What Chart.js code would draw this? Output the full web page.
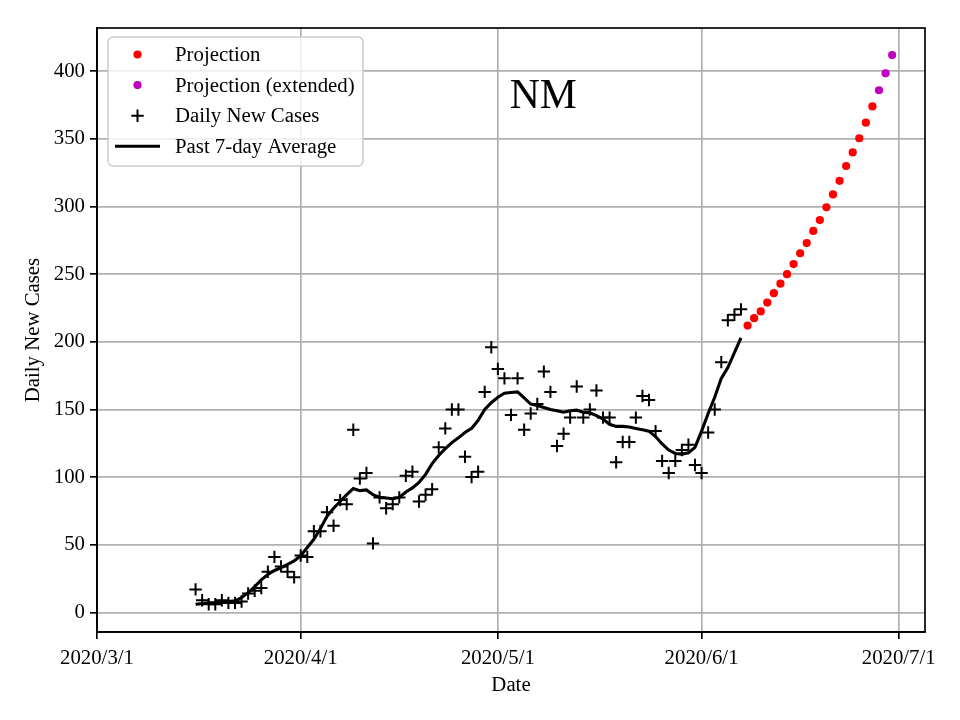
<!DOCTYPE html>
<html><head><meta charset="utf-8">
<script src="https://cdn.jsdelivr.net/npm/chart.js@4.4.1/dist/chart.umd.min.js"></script>
<style>html,body{margin:0;padding:0;background:#fff}canvas{display:block}</style>
</head><body>
<canvas id="c" width="960" height="720"></canvas>
<script>
// ---- data ----
const xTickDays = [0, 31, 61, 92, 122];            // days since 2020/3/1
const xTickLabels = ['2020/3/1', '2020/4/1', '2020/5/1', '2020/6/1', '2020/7/1'];
const yTicks = [0, 50, 100, 150, 200, 250, 300, 350, 400];
const stateName = 'NM';

const casesStartDay = 15;  // 2020/3/16
const dailyNewCases = [
  17, 9, 6, 6, 9, 7, 7, 8, 14, 16, 18, 30, 41, 34, 30, 26,
  42, 41, 60, 60, 74, 64, 83, 80, 135, 99, 103, 51, 85, 77, 80, 85, 101, 104,
  82, 87, 91, 122, 136, 150, 150, 115, 100, 104, 163, 196,
  180, 173, 146, 173, 135, 147, 154, 178, 163, 123, 132, 144, 167, 144, 150, 164,
  144, 144, 111, 126, 126, 144, 160, 157, 134, 112, 103, 112, 120, 124, 109,
  103, 133, 150, 185, 216, 220, 224
];
const avg7 = [
  6, 6.5, 7, 7, 7.5, 8, 8.5,
  11, 14.5, 19, 24, 28, 31, 33, 35.5, 38,
  42, 48, 54, 62, 71, 77, 82, 87, 91.5,
  90, 90.5, 87, 85, 84.5, 84, 85, 89, 92,
  96, 102, 110, 116, 121, 125.5, 129, 133, 136,
  142, 150, 155, 159, 162, 162.5, 163, 158.5, 154,
  153, 151.5, 150, 149, 148, 149, 149.5, 148, 147.5,
  145.5, 143, 139, 137.5, 137.5, 137, 136, 135, 134,
  130, 124.5, 120, 117.5, 117, 118, 122, 134, 147,
  159, 173, 181, 192, 203
];
const projStartDay = 99;   // 2020/6/8
const projection = [212, 217.5, 222.5, 229, 236, 243, 250, 257.5, 265.5, 273,
  282, 290, 299.5, 309, 319, 330, 340, 350.5, 362, 374];
const projExtStartDay = 119;
const projectionExt = [386, 398.5, 412];

const toXY = (arr, start) => arr.map((v, i) => ({x: start + i, y: v}));

// ---- style ----
const FONT = '"Liberation Serif", "Times New Roman", serif';
const FS = 20.8;
const LW = 1.67;

const framePlugin = {
  id: 'frame',
  afterDatasetsDraw(chart) {
    const {ctx, chartArea: a} = chart;
    ctx.save();
    ctx.strokeStyle = '#000';
    ctx.lineWidth = LW;
    ctx.strokeRect(a.left, a.top, a.right - a.left, a.bottom - a.top);
    ctx.fillStyle = '#000';
    ctx.font = '41.7px ' + FONT;
    ctx.textAlign = 'center';
    ctx.textBaseline = 'alphabetic';
    ctx.fillText(stateName, a.left + 0.539 * (a.right - a.left), a.top + 0.1325 * (a.bottom - a.top));
    ctx.restore();
  }
};

const legendPlugin = {
  id: 'innerLegend',
  afterDraw(chart) {
    const {ctx, chartArea: a} = chart;
    const order = [2, 3, 1, 0];
    const x0 = a.left + 11, y0 = a.top + 9, w = 255, h = 129, r = 5;
    ctx.save();
    ctx.beginPath();
    ctx.moveTo(x0 + r, y0);
    ctx.arcTo(x0 + w, y0, x0 + w, y0 + h, r);
    ctx.arcTo(x0 + w, y0 + h, x0, y0 + h, r);
    ctx.arcTo(x0, y0 + h, x0, y0, r);
    ctx.arcTo(x0, y0, x0 + w, y0, r);
    ctx.closePath();
    ctx.fillStyle = 'rgba(255,255,255,0.8)';
    ctx.fill();
    ctx.strokeStyle = '#cccccc';
    ctx.lineWidth = 1.5;
    ctx.stroke();
    ctx.font = FS + 'px ' + FONT;
    ctx.textAlign = 'left';
    ctx.textBaseline = 'middle';
    order.forEach((di, k) => {
      const ds = chart.data.datasets[di];
      const cy = y0 + 17.5 + k * 30.6;
      const mx = x0 + 29.5;
      ctx.fillStyle = ds.backgroundColor;
      ctx.strokeStyle = ds.borderColor;
      if (ds.showLine === false) {
        if (ds.pointStyle === 'circle') {
          ctx.beginPath(); ctx.arc(mx, cy, ds.pointRadius, 0, Math.PI * 2); ctx.fill();
        } else {
          ctx.lineWidth = ds.borderWidth;
          Chart.helpers.drawPoint(ctx, {
            pointStyle: ds.pointStyle, radius: ds.pointRadius, borderWidth: ds.borderWidth
          }, mx, cy);
        }
      } else {
        ctx.beginPath();
        ctx.lineWidth = ds.borderWidth;
        ctx.moveTo(mx - 22.5, cy); ctx.lineTo(mx + 22.5, cy); ctx.stroke();
      }
      ctx.fillStyle = '#000';
      ctx.fillText(ds.label, x0 + 67, cy + 1);
    });
    ctx.restore();
  }
};

new Chart(document.getElementById('c'), {
  type: 'scatter',
  data: {
    datasets: [
      { label: 'Past 7-day Average', data: toXY(avg7, casesStartDay), showLine: true,
        borderColor: '#000', borderWidth: 3.1, pointRadius: 0, fill: false, tension: 0, order: 0 },
      { label: 'Daily New Cases', data: toXY(dailyNewCases, casesStartDay), showLine: false,
        pointStyle: 'cross', pointRadius: 6.2, borderWidth: 2, borderColor: '#000',
        backgroundColor: '#000', order: 1 },
      { label: 'Projection', data: toXY(projection, projStartDay), showLine: false,
        pointStyle: 'circle', pointRadius: 4.1, borderWidth: 0, borderColor: '#ff0000',
        backgroundColor: '#ff0000', order: 2 },
      { label: 'Projection (extended)', data: toXY(projectionExt, projExtStartDay), showLine: false,
        pointStyle: 'circle', pointRadius: 4.1, borderWidth: 0, borderColor: '#bf00bf',
        backgroundColor: '#bf00bf', order: 3 }
    ]
  },
  options: {
    responsive: false,
    animation: false,
    devicePixelRatio: 1,
    events: [],
    layout: { padding: { left: 0, right: 35, top: 28, bottom: 0 } },
    plugins: { legend: { display: false }, tooltip: { enabled: false } },
    scales: {
      x: {
        type: 'linear', min: 0, max: 126,
        afterBuildTicks: s => { s.ticks = xTickDays.map(v => ({value: v})); },
        afterFit: s => { s.height = 88; },
        ticks: {
          autoSkip: false, maxRotation: 0, padding: 7, color: '#000',
          font: { family: FONT, size: FS },
          callback: v => { const i = xTickDays.indexOf(v); return i >= 0 ? xTickLabels[i] : ''; }
        },
        grid: { color: '#b0b0b0', lineWidth: LW, tickColor: '#000', tickLength: 7, tickWidth: LW },
        border: { display: true, color: '#000', width: LW },
        title: { display: true, text: 'Date', color: '#000', font: { family: FONT, size: FS },
          padding: { top: 0, bottom: 22 } }
      },
      y: {
        type: 'linear', min: -14.5, max: 432,
        afterBuildTicks: s => { s.ticks = yTicks.map(v => ({value: v})); },
        afterFit: s => { s.width = 97; },
        ticks: { padding: 5, color: '#000', font: { family: FONT, size: FS } },
        grid: { color: '#b0b0b0', lineWidth: LW, tickColor: '#000', tickLength: 7, tickWidth: LW },
        border: { display: true, color: '#000', width: LW },
        title: { display: true, text: 'Daily New Cases', color: '#000', font: { family: FONT, size: FS },
          padding: { top: 21, bottom: 0 } }
      }
    }
  },
  plugins: [framePlugin, legendPlugin]
});
</script>
</body></html>
